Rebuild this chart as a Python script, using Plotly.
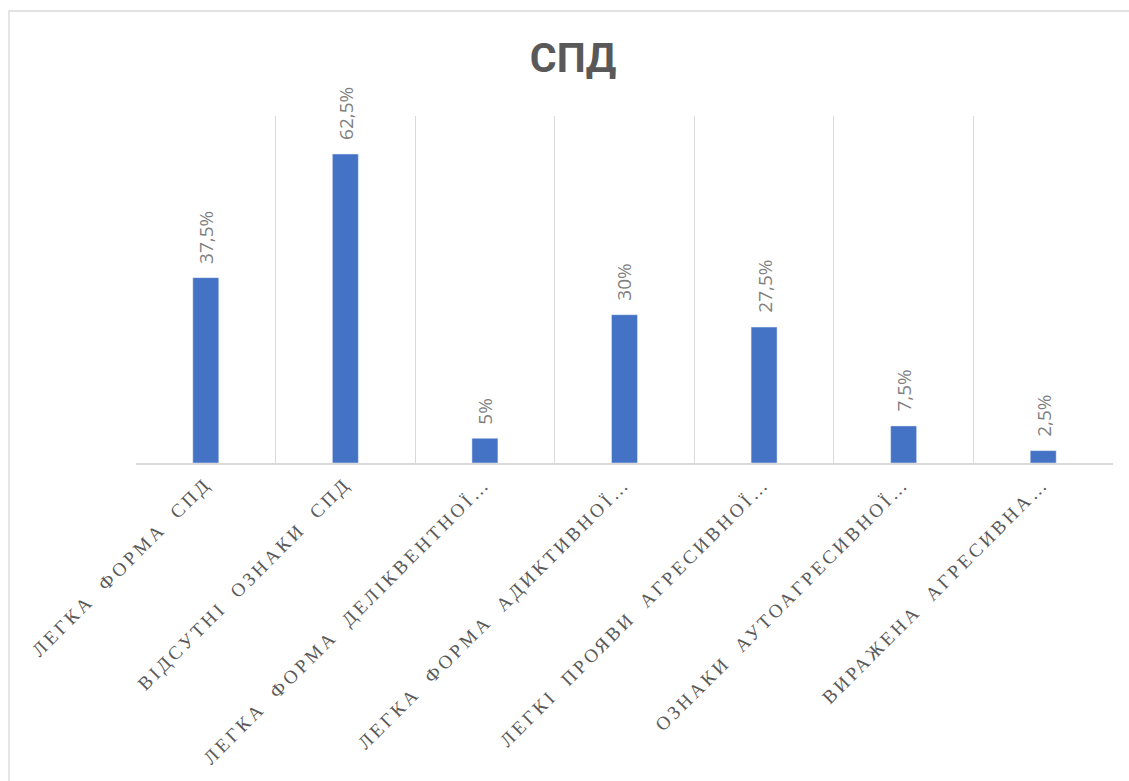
import plotly.graph_objects as go

categories = [
    "ЛЕГКА ФОРМА СПД",
    "ВІДСУТНІ ОЗНАКИ СПД",
    "ЛЕГКА ФОРМА ДЕЛІКВЕНТНОЇ…",
    "ЛЕГКА ФОРМА АДИКТИВНОЇ…",
    "ЛЕГКІ ПРОЯВИ АГРЕСИВНОЇ…",
    "ОЗНАКИ АУТОАГРЕСИВНОЇ…",
    "ВИРАЖЕНА АГРЕСИВНА…",
]
values = [37.5, 62.5, 5, 30, 27.5, 7.5, 2.5]
labels = [f"{v:g}".replace(".", ",") + "%" for v in values]

W, H = 1129, 781
L, R, T, B = 136, 1113, 116, 463

fig = go.Figure(
    go.Bar(
        x=categories,
        y=values,
        width=0.186,
        marker=dict(color="#4472C4"),
        hoverinfo="skip",
    )
)

for c, v, t in zip(categories, values, labels):
    fig.add_annotation(
        x=c, y=v, text=t, showarrow=False, textangle=-90,
        xanchor="center", yanchor="bottom", yshift=12,
        font=dict(family="Open Sans", size=19, color="#7f7f7f"),
    )

pw, ph = R - L, B - T
fig.add_shape(
    type="rect", xref="paper", yref="paper",
    x0=(9 - L) / pw, x1=(1140 - L) / pw,
    y0=(B - 800) / ph, y1=(B - 11) / ph,
    line=dict(color="#d9d9d9", width=1.3), fillcolor="rgba(0,0,0,0)", layer="below",
)

fig.update_layout(
    width=W, height=H,
    margin=dict(l=L, r=W - R, t=T, b=H - B, autoexpand=False),
    paper_bgcolor="white", plot_bgcolor="white",
    title=dict(
        text="<b>СПД</b>", x=573 / W, xref="container", xanchor="center",
        y=1 - 58 / H, yref="container", yanchor="middle",
        font=dict(family="Roboto", size=41, color="#595959"),
    ),
    showlegend=False,
    xaxis=dict(
        type="category",
        tickson="boundaries",
        showgrid=True, gridcolor="#d9d9d9", gridwidth=1.3,
        showline=True, linecolor="#d9d9d9", linewidth=2,
        ticks="", tickangle=-45,
        tickfont=dict(family="Liberation Serif", size=19, color="#595959"),
        automargin=False,
    ),
    yaxis=dict(range=[0, 70.2], visible=False, showgrid=False, zeroline=False, fixedrange=True),
)

post = """
document.body.style.margin = '0';
var gd = document.getElementsByClassName('plotly-graph-div')[0];
function spaceTicks(){
  document.querySelectorAll('.xtick text').forEach(function(t){
    t.setAttribute('letter-spacing','3.3px');
    t.setAttribute('word-spacing','7px');
  });
}
spaceTicks();
gd.on('plotly_afterplot', spaceTicks);
"""

fig.write_html("out.html", post_script=post, config={"displayModeBar": False})
